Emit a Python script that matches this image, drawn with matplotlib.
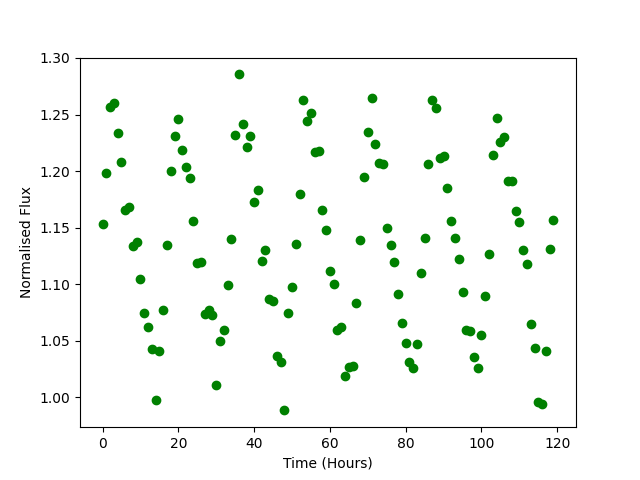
import matplotlib
matplotlib.use("Agg")
import matplotlib.pyplot as plt
import numpy as np

time_hours = np.arange(120)
flux = [1.153, 1.198, 1.257, 1.260, 1.234, 1.208, 1.166, 1.168, 1.134, 1.137,
        1.105, 1.075, 1.062, 1.043, 0.998, 1.041, 1.077, 1.135, 1.200, 1.231,
        1.246, 1.219, 1.204, 1.194, 1.156, 1.119, 1.120, 1.074, 1.077, 1.073,
        1.011, 1.050, 1.060, 1.099, 1.140, 1.232, 1.2855, 1.242, 1.221, 1.231,
        1.173, 1.183, 1.121, 1.130, 1.087, 1.085, 1.037, 1.031, 0.9885, 1.075,
        1.098, 1.136, 1.180, 1.263, 1.244, 1.251, 1.217, 1.218, 1.166, 1.148,
        1.112, 1.100, 1.060, 1.062, 1.019, 1.027, 1.028, 1.083, 1.139, 1.195,
        1.235, 1.265, 1.224, 1.207, 1.206, 1.150, 1.135, 1.120, 1.091, 1.066,
        1.048, 1.031, 1.026, 1.047, 1.110, 1.141, 1.206, 1.263, 1.256, 1.212,
        1.213, 1.185, 1.156, 1.141, 1.122, 1.093, 1.060, 1.059, 1.036, 1.026,
        1.055, 1.090, 1.127, 1.214, 1.247, 1.226, 1.230, 1.191, 1.191, 1.165,
        1.155, 1.130, 1.118, 1.065, 1.044, 0.996, 0.994, 1.041, 1.131, 1.157]

fig, ax = plt.subplots(figsize=(6.4, 4.8), dpi=100)
ax.plot(time_hours, flux, 'o', color='green')
ax.set_xlabel('Time (Hours)')
ax.set_ylabel('Normalised Flux')
fig.savefig('out.png')
